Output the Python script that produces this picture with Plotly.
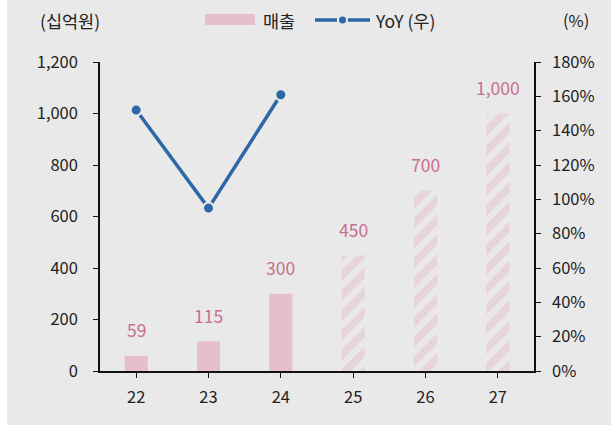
import plotly.graph_objects as go

years = ["22", "23", "24", "25", "26", "27"]
sales = [59, 115, 300, 450, 700, 1000]
sales_labels = ["59", "115", "300", "450", "700", "1,000"]
yoy_years = ["22", "23", "24"]
yoy = [152, 94.9, 160.9]
actual_n = 3

BG = "#e9e9e9"
PINK = "#e6bfcc"
PINK_TXT = "#c86f8e"
BLUE = "#2c67a6"
FONT = "Noto Sans CJK KR"

W, H = 611, 425
L, R, T, B = 100, 77, 62, 54
pw = W - L - R
ph = H - T - B

def px2paper_x(px):
    return (px - L) / pw

def px2paper_y(py):
    return (H - B - py) / ph

fig = go.Figure()

fig.add_trace(go.Bar(
    x=years[:actual_n], y=sales[:actual_n], width=0.32,
    marker=dict(color=PINK, line=dict(width=0)),
    showlegend=False, hoverinfo="skip"))

fig.add_trace(go.Bar(
    x=years[actual_n:], y=sales[actual_n:], width=0.32,
    marker=dict(color=BG, line=dict(width=0),
                pattern=dict(shape="/", fgcolor=PINK, bgcolor=BG, size=14, solidity=0.55, fillmode="overlay")),
    showlegend=False, hoverinfo="skip"))

fig.add_trace(go.Scatter(
    x=yoy_years, y=yoy, yaxis="y2", mode="lines+markers",
    line=dict(color=BLUE, width=3.5),
    marker=dict(size=11, color=BLUE, line=dict(color=BG, width=2)),
    showlegend=False, hoverinfo="skip"))

for i, (yv, t) in enumerate(zip(sales, sales_labels)):
    fig.add_annotation(x=i, y=yv, xref="x", yref="y", text=t, showarrow=False,
                       xanchor="center", yanchor="middle",
                       yshift=26, font=dict(family=FONT, size=17.5, color=PINK_TXT))

def paper_text(px, py, text, xanchor="center", size=16.5):
    fig.add_annotation(x=px2paper_x(px), y=px2paper_y(py), xref="paper", yref="paper",
                       xanchor=xanchor, yanchor="middle", text=text, showarrow=False,
                       font=dict(family=FONT, size=size, color="#222"))

paper_text(70, 20, "(십억원)", size=17.5)
paper_text(576, 20, "(%)")
paper_text(261, 20, "매출", "left", size=17.5)
paper_text(373, 20, "YoY (우)", "left", size=17.5)

shapes = []
shapes.append(dict(type="rect", xref="paper", yref="paper",
                   x0=px2paper_x(205), x1=px2paper_x(255), y0=px2paper_y(14), y1=px2paper_y(25),
                   fillcolor=PINK, line=dict(width=0), layer="above"))
shapes.append(dict(type="line", xref="paper", yref="paper",
                   x0=px2paper_x(315), x1=px2paper_x(337), y0=px2paper_y(20), y1=px2paper_y(20),
                   line=dict(color=BLUE, width=3.5)))
shapes.append(dict(type="line", xref="paper", yref="paper",
                   x0=px2paper_x(348), x1=px2paper_x(370), y0=px2paper_y(20), y1=px2paper_y(20),
                   line=dict(color=BLUE, width=3.5)))
shapes.append(dict(type="circle", xref="paper", yref="paper",
                   x0=px2paper_x(339), x1=px2paper_x(346), y0=px2paper_y(16.5), y1=px2paper_y(23.5),
                   fillcolor=BLUE, line=dict(width=0)))
shapes.append(dict(type="rect", xref="paper", yref="paper",
                   x0=px2paper_x(-2), x1=px2paper_x(7), y0=px2paper_y(H + 2), y1=px2paper_y(-2),
                   fillcolor="white", line=dict(width=0), layer="below"))

axis_common = dict(showgrid=False, zeroline=False, showline=True, linecolor="#111", linewidth=1.5,
                   ticks="outside", ticklen=5, tickcolor="#111", tickwidth=1.2,
                   tickfont=dict(family=FONT, size=16.5, color="#222"))

fig.update_layout(
    width=W, height=H,
    margin=dict(l=L, r=R, t=T, b=B),
    paper_bgcolor=BG, plot_bgcolor=BG,
    barmode="overlay",
    shapes=shapes,
    xaxis=dict(**axis_common, type="category", range=[-0.5, 5.5], ticklabelstandoff=5),
    yaxis=dict(**axis_common, range=[0, 1200], dtick=200, tickformat=",", ticklabelstandoff=12),
    yaxis2=dict(**axis_common, range=[0, 180], dtick=20, ticksuffix="%", overlaying="y",
                side="right", ticklabelstandoff=8),
)

fig.write_html("out.html")
